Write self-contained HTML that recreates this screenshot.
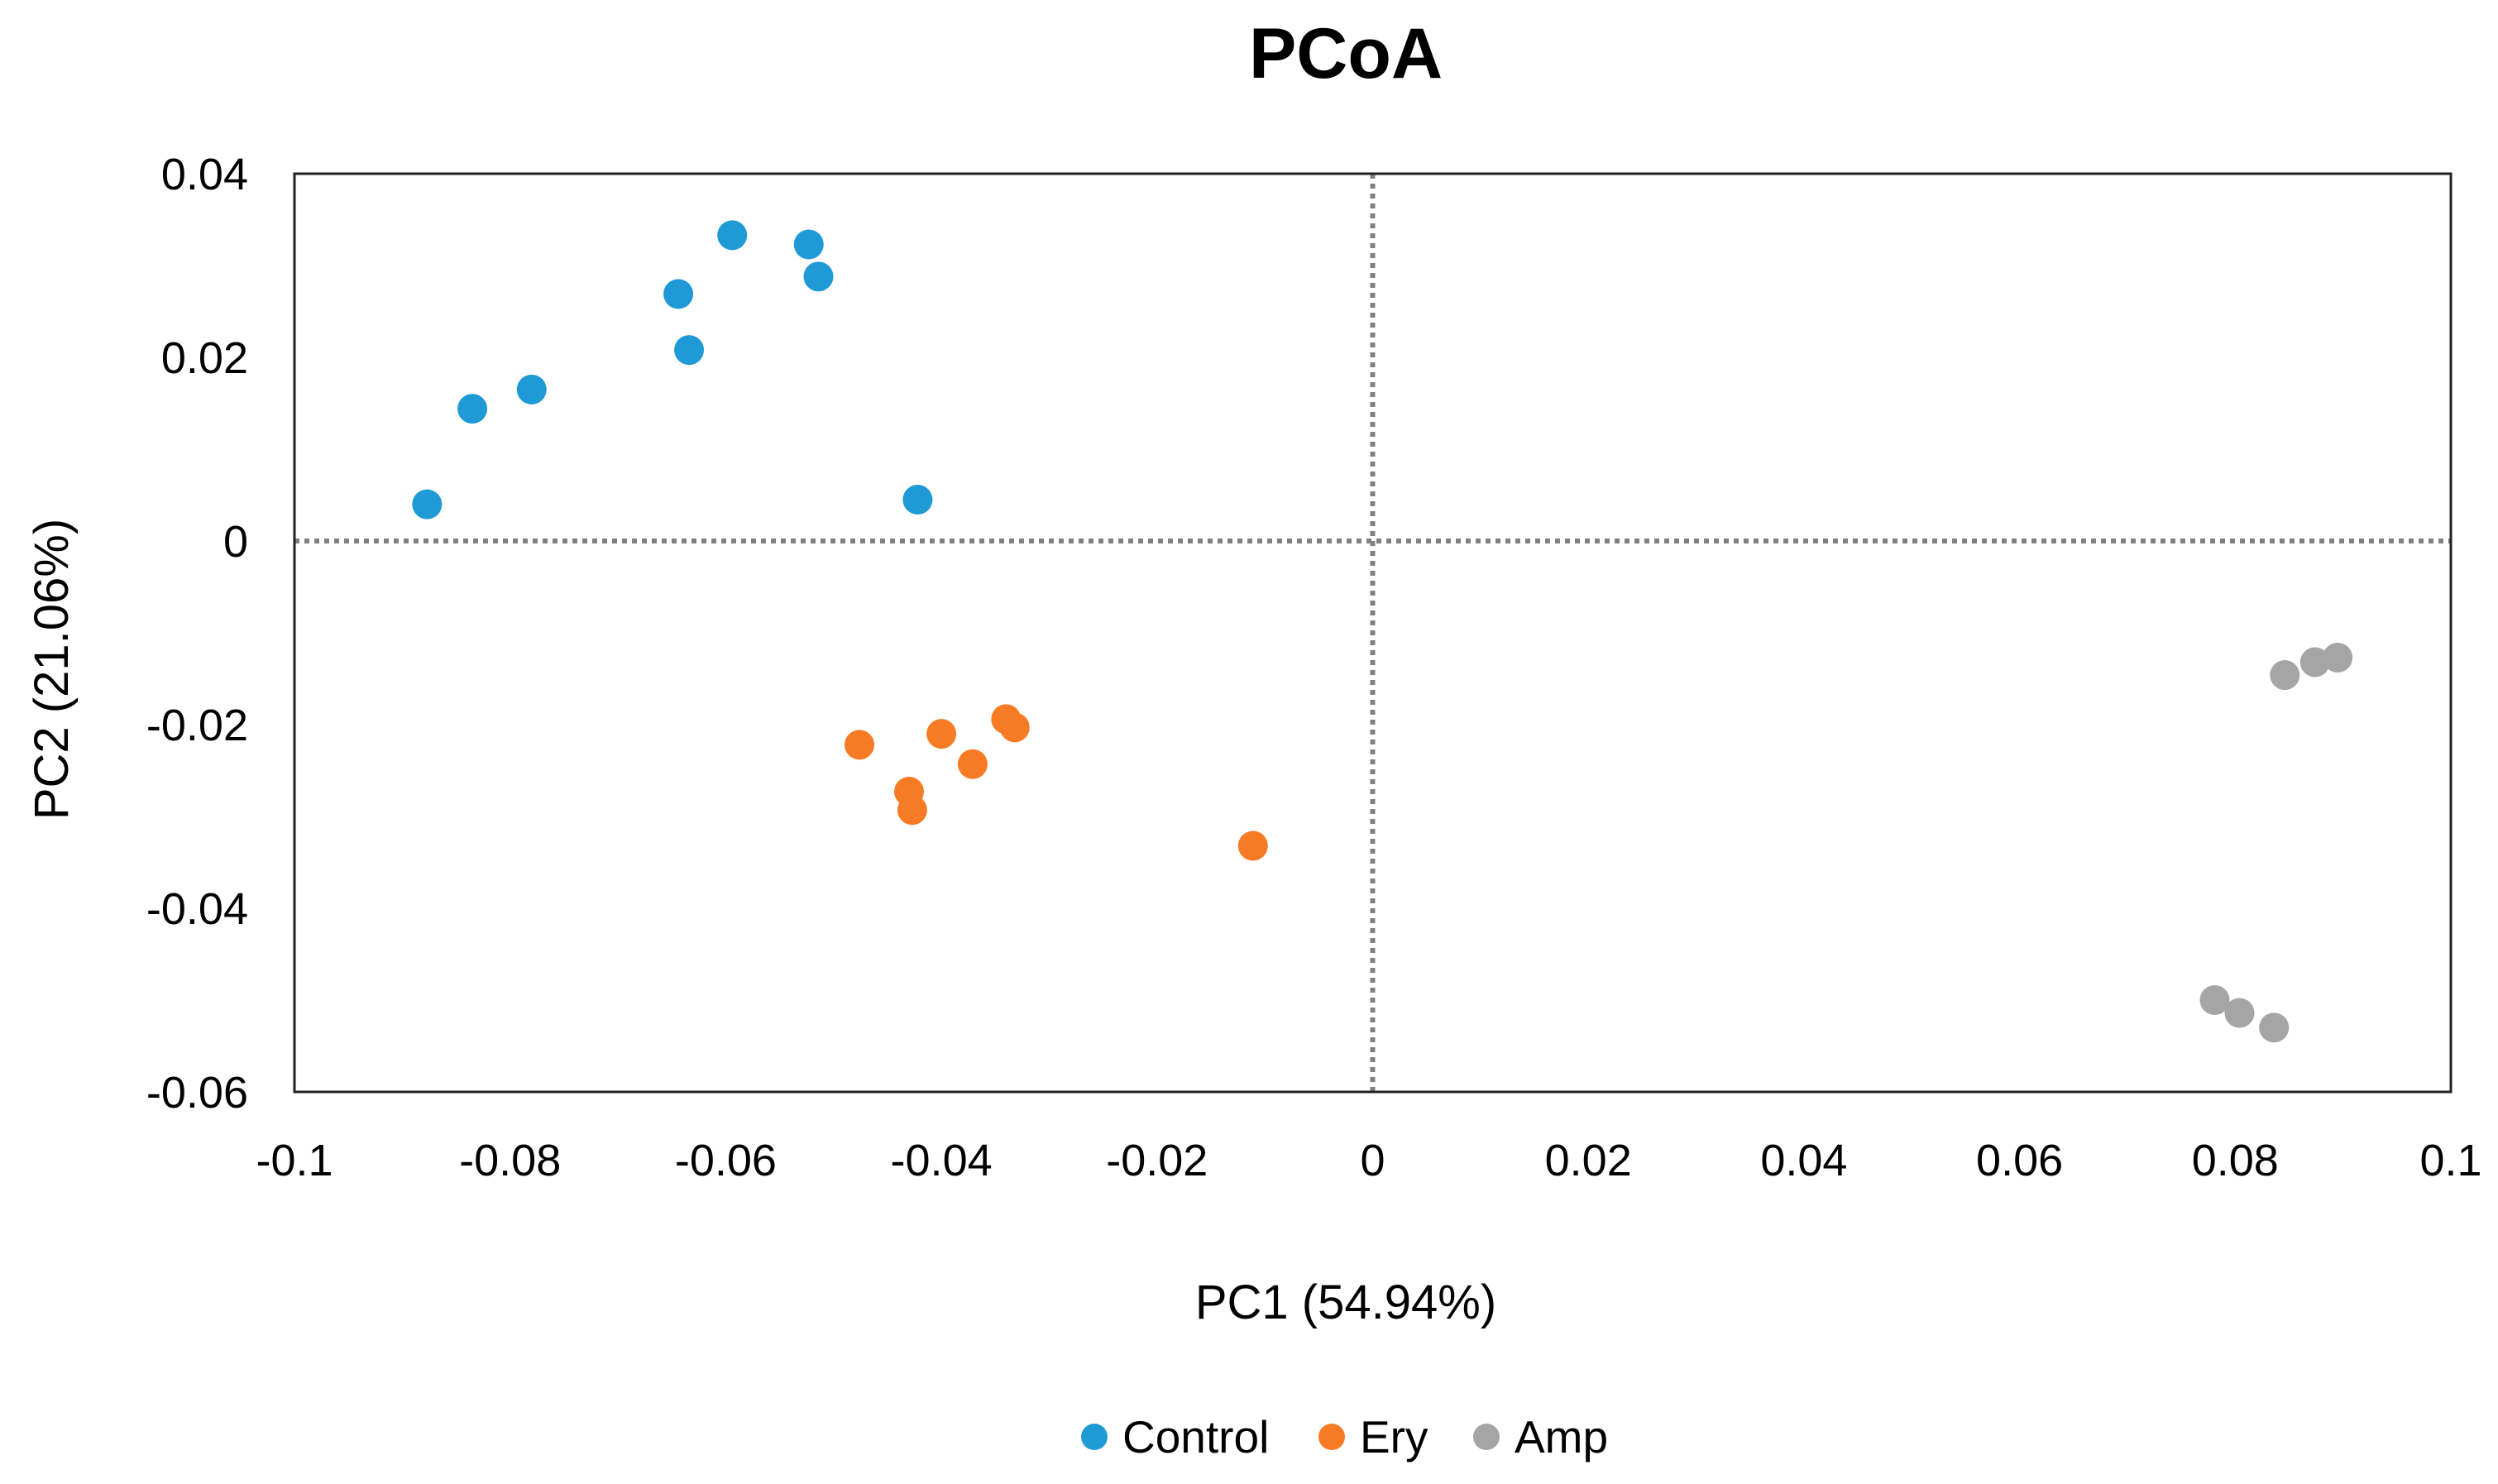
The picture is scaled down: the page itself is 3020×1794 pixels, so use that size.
<!DOCTYPE html>
<html><head><meta charset="utf-8"><style>
html,body{margin:0;padding:0;background:#fff;}
svg{display:block;font-family:"Liberation Sans",Arial,sans-serif;}
</style></head><body>
<svg id="chart" width="3020" height="1794" viewBox="0 0 3020 1794">
<text x="1627" y="94" font-size="86" font-weight="bold" text-anchor="middle">PCoA</text>
<g id="grid"></g>
<rect x="356" y="210" width="2607" height="1110" fill="none" stroke="#222" stroke-width="3"/>
<g id="ticks"></g>
<g id="points"></g>
<text x="1627" y="1594" font-size="58" text-anchor="middle">PC1 (54.94%)</text>
<text transform="translate(82,809) rotate(-90)" font-size="58" text-anchor="middle">PC2 (21.06%)</text>
<g id="legend"></g>
</svg>
<script>
const seriesNames = ["Control","Ery","Amp"];
const seriesColors = ["#1f9ad6","#f77b24","#a5a5a5"];
const controlX = [-0.0877,-0.0835,-0.0780,-0.0644,-0.0634,-0.0594,-0.0523,-0.0514,-0.0422];
const controlY = [0.0040,0.0144,0.0165,0.0269,0.0208,0.0333,0.0323,0.0288,0.0045];
const eryX = [-0.0476,-0.0430,-0.0427,-0.0400,-0.0371,-0.0340,-0.0332,-0.0111];
const eryY = [-0.0222,-0.0273,-0.0293,-0.0210,-0.0243,-0.0194,-0.0203,-0.0332];
const ampX = [0.0846,0.0874,0.0895,0.0781,0.0804,0.0836];
const ampY = [-0.0146,-0.0132,-0.0127,-0.0500,-0.0514,-0.0530];
const xTicks = [-0.1,-0.08,-0.06,-0.04,-0.02,0,0.02,0.04,0.06,0.08,0.1];
const xTickLabels = ["-0.1","-0.08","-0.06","-0.04","-0.02","0","0.02","0.04","0.06","0.08","0.1"];
const yTicks = [0.04,0.02,0,-0.02,-0.04,-0.06];
const yTickLabels = ["0.04","0.02","0","-0.02","-0.04","-0.06"];

const NS="http://www.w3.org/2000/svg";
const L=356,R=2963,T=210,B=1320;
const xs=v=>L+(v+0.1)/0.2*(R-L);
const ys=v=>T+(0.04-v)/0.1*(B-T);
function mk(tag,attrs,parent){const e=document.createElementNS(NS,tag);for(const k in attrs)e.setAttribute(k,attrs[k]);parent.appendChild(e);return e;}
const grid=document.getElementById('grid');
let h=mk('line',{x1:L,x2:R,y1:ys(0),y2:ys(0),stroke:'#808080','stroke-width':6,'stroke-dasharray':'6 6'},grid);


let v=mk('line',{x1:xs(0),x2:xs(0),y1:T,y2:B,stroke:'#808080','stroke-width':6,'stroke-dasharray':'6 6'},grid);


const ticks=document.getElementById('ticks');
xTicks.forEach((t,i)=>{const e=mk('text',{x:xs(t),y:1421,'font-size':54,'text-anchor':'middle'},ticks);e.textContent=xTickLabels[i];

});
yTicks.forEach((t,i)=>{const e=mk('text',{x:300,y:ys(t)+19,'font-size':54,'text-anchor':'end'},ticks);e.textContent=yTickLabels[i];

});
const pts=document.getElementById('points');
const data=[[controlX,controlY],[eryX,eryY],[ampX,ampY]];
data.forEach((d,s)=>{d[0].forEach((x,i)=>{const c=mk('circle',{cx:xs(x),cy:ys(d[1][i]),r:18,fill:seriesColors[s]},pts);

});});
const leg=document.getElementById('legend');
const legDotX=[1323,1610,1797];
seriesNames.forEach((n,i)=>{const g=mk('g',{},leg);


mk('circle',{cx:legDotX[i],cy:1737,r:16,fill:seriesColors[i]},g);
const t=mk('text',{x:legDotX[i]+34,y:1756,'font-size':55},g);t.textContent=n;});
</script>
</body></html>
